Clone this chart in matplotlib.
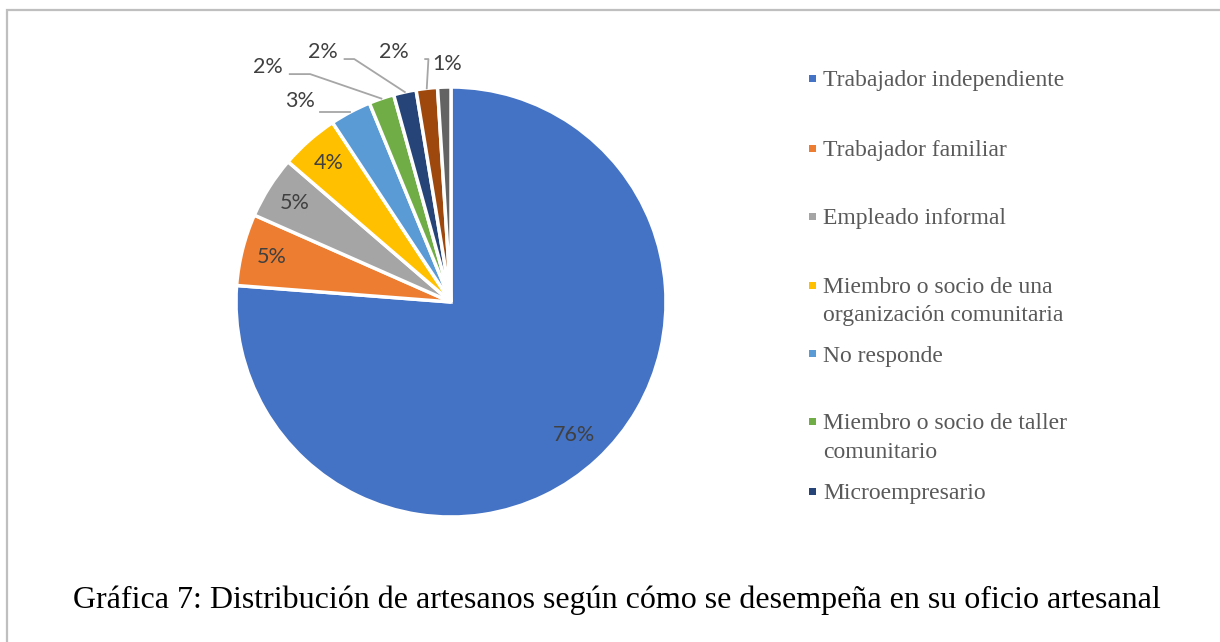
import numpy as np
import matplotlib
matplotlib.use("Agg")
import matplotlib.pyplot as plt
from matplotlib.patches import Rectangle

# datos de la grafica
categorias = ["Trabajador independiente", "Trabajador familiar", "Empleado informal",
              "Miembro o socio de una\norganización comunitaria", "No responde",
              "Miembro o socio de taller\ncomunitario", "Microempresario",
              "Otro", "Otros"]
porcentajes = [76.3, 5.4, 4.7, 4.4, 3.1, 1.9, 1.7, 1.6, 1.0]
colores = ["#4472C4", "#ED7D31", "#A5A5A5", "#FFC000", "#5B9BD5",
           "#70AD47", "#264478", "#9E480E", "#636363"]
n_leyenda = 7  # la leyenda original solo muestra 7 entradas

# posiciones de las etiquetas exteriores (coordenadas del eje, radio = 1)
etiq_ext = {4: (-0.70, 0.935), 5: (-0.85, 1.095), 6: (-0.595, 1.165),
            7: (-0.265, 1.165), 8: (-0.02, 1.105)}
codo_ext = {4: (-0.61, -0.61), 5: (-0.75, -0.655), 6: (-0.495, -0.45),
            7: (-0.12, -0.105)}

W, H = 1220, 642
fig = plt.figure(figsize=(W / 100, H / 100), dpi=100)

# marco gris
fig.patches.append(Rectangle((7 / W, -0.1), 1.2, 1.1 - 10 / H, transform=fig.transFigure,
                             fill=False, edgecolor="#BFBFBF", linewidth=1.6))

cx, cy, r = 451, 302, 215
ax = fig.add_axes([(cx - r) / W, (H - cy - r) / H, 2 * r / W, 2 * r / H])

wedges, _ = ax.pie(porcentajes, colors=colores, startangle=90, counterclock=False,
                   radius=1, wedgeprops=dict(edgecolor="white", linewidth=2.5))
ax.set_xlim(-1, 1)
ax.set_ylim(-1, 1)
ax.set_aspect("equal")
ax.axis("off")

color_txt = "#404040"
fuente_num = "Lato"
for i, w in enumerate(wedges):
    ang = np.deg2rad((w.theta1 + w.theta2) / 2)
    txt = "%.0f%%" % porcentajes[i]
    if i < 4:
        d = 0.84 if i == 0 else 0.86
        ax.text(d * np.cos(ang), d * np.sin(ang), txt, ha="center", va="center",
                fontsize=15.5, color=color_txt, family=fuente_num)
    else:
        tx, ty = etiq_ext[i]
        ax.text(tx, ty, txt, ha="center", va="center", fontsize=15.5,
                color=color_txt, family=fuente_num)
        if i in codo_ext:
            x0, x1 = codo_ext[i]
            ex, ey = np.cos(ang), np.sin(ang)
            ly = ty - 0.035
            if i == 4:
                ax.plot([x0, ex], [ey, ey], color="#A6A6A6", lw=1.3, clip_on=False)
            else:
                ax.plot([x0, x1, ex], [ly, ly, ey], color="#A6A6A6", lw=1.3, clip_on=False)

# leyenda manual (espaciado irregular como en el original)
y_leyenda = [78, 148, 216, 285, 354, 421, 491]
interlinea = 28.5
for i in range(n_leyenda):
    yf = 1 - y_leyenda[i] / H
    fig.patches.append(Rectangle((809 / W, yf - 3.5 / H), 7 / W, 7 / H,
                                 transform=fig.transFigure, facecolor=colores[i],
                                 edgecolor="none"))
    for k, linea in enumerate(categorias[i].split("\n")):
        fig.text(823 / W, yf - (k * interlinea + 2.5) / H, linea, ha="left", va="center",
                 fontsize=17, color="#595959", family="Liberation Serif")

fig.text(617 / W, 1 - 600 / H,
         "Gráfica 7: Distribución de artesanos según cómo se desempeña en su oficio artesanal",
         ha="center", va="center", fontsize=23, color="black", family="Liberation Serif")

fig.savefig("out.png", dpi=100)
